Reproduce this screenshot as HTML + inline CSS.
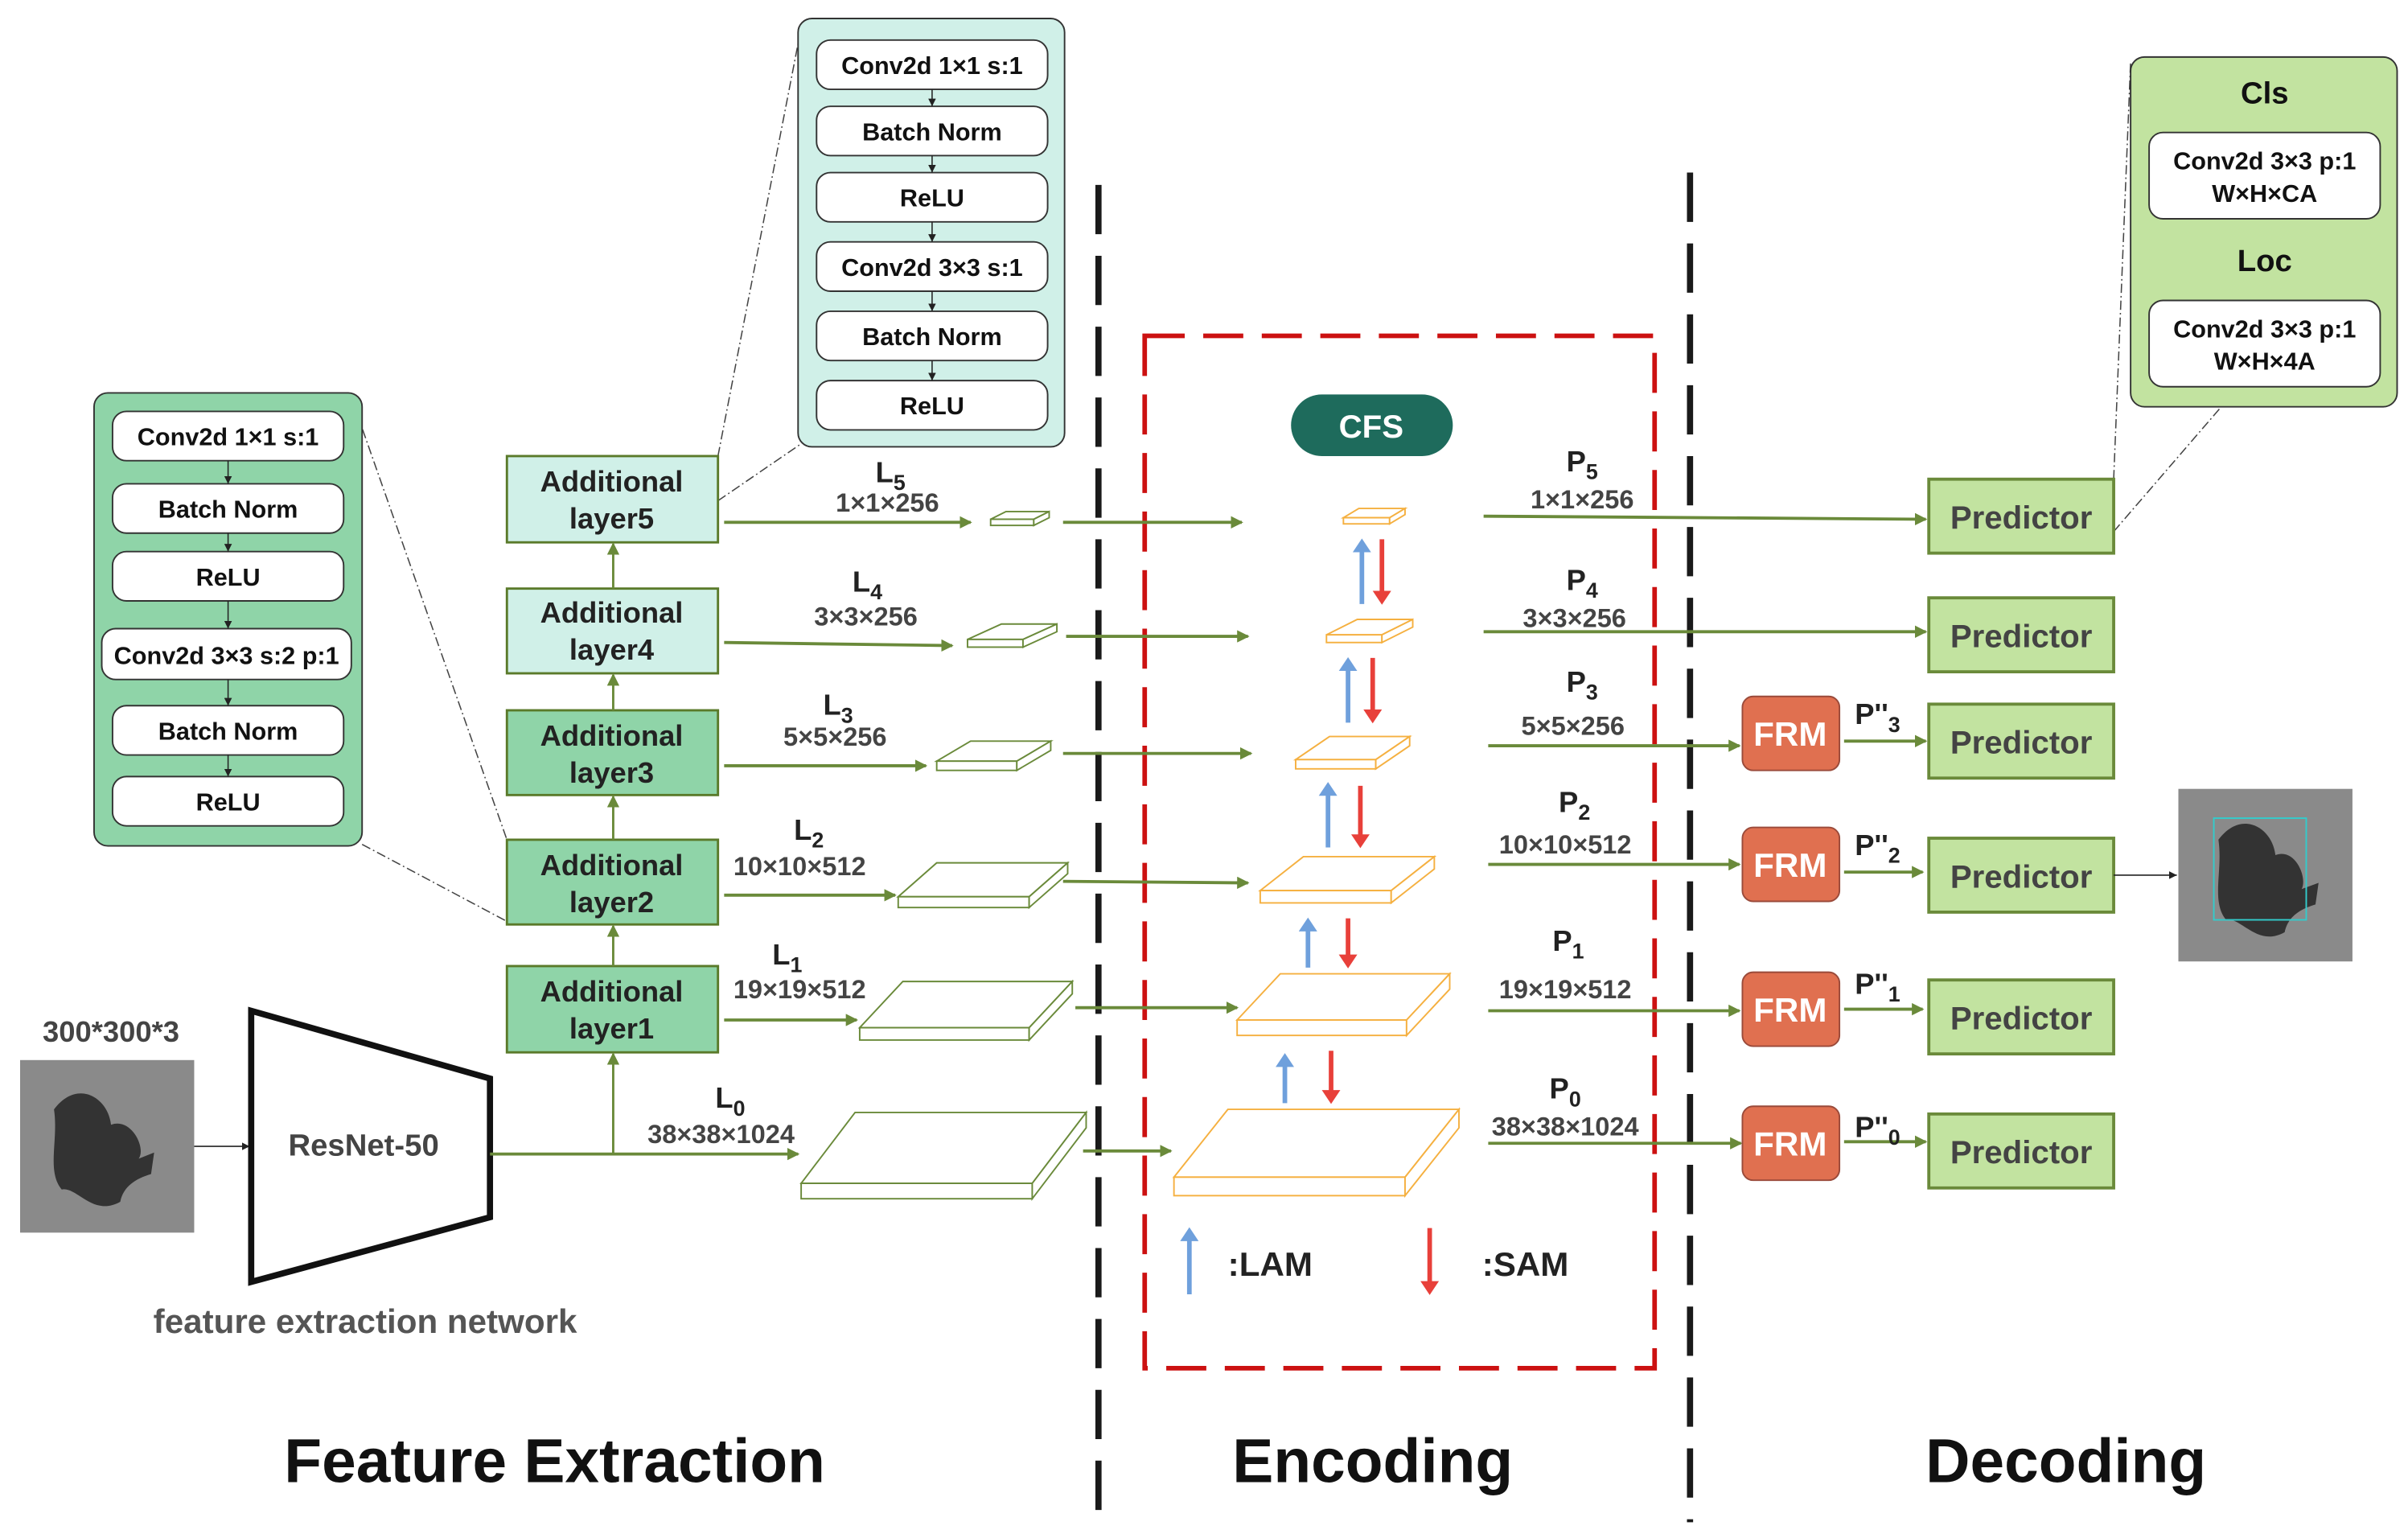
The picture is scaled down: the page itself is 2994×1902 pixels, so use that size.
<!DOCTYPE html>
<html><head><meta charset="utf-8"><style>
html,body{margin:0;padding:0;background:#fff;width:2994px;height:1902px;overflow:hidden}
svg{display:block}
text{font-family:"Liberation Sans",sans-serif;font-weight:bold}
</style></head><body>
<svg width="2994" height="1902" viewBox="0 0 1563 993" xmlns="http://www.w3.org/2000/svg">
<defs>
<marker id="ag" markerWidth="8" markerHeight="8" refX="7" refY="4" orient="auto" markerUnits="userSpaceOnUse"><path d="M0,0 L8,4 L0,8 z" fill="#6a8a3a"/></marker>
<marker id="ak" markerWidth="5" markerHeight="5" refX="5" refY="2.5" orient="auto" markerUnits="userSpaceOnUse"><path d="M0,0 L5,2.5 L0,5 z" fill="#222"/></marker>
<marker id="ab" markerWidth="9" markerHeight="12" refX="4.5" refY="6" orient="auto" markerUnits="userSpaceOnUse"><path d="M0,0 L9,6 L0,12 z" fill="#6fa0dc"/></marker>
<marker id="ar" markerWidth="9" markerHeight="12" refX="4.5" refY="6" orient="auto" markerUnits="userSpaceOnUse"><path d="M0,0 L9,6 L0,12 z" fill="#e8403a"/></marker>
</defs>

<!-- dashed separators -->
<line x1="713" y1="120" x2="713" y2="988" stroke="#1a1a1a" stroke-width="4" stroke-dasharray="32,14"/>
<line x1="1097" y1="112" x2="1097" y2="988" stroke="#1a1a1a" stroke-width="4" stroke-dasharray="32,14"/>
<rect x="743" y="218" width="331" height="670" fill="none" stroke="#cc1111" stroke-width="3" stroke-dasharray="26,12"/>

<!-- connector dash lines -->
<g stroke="#444" stroke-width="0.8" stroke-dasharray="6,2,1,2" fill="none">
<line x1="228" y1="258" x2="329" y2="545"/>
<line x1="235" y1="548" x2="329" y2="598"/>
<line x1="466" y1="296" x2="520" y2="18"/>
<line x1="466" y1="325" x2="520" y2="288"/>
<line x1="1372" y1="311" x2="1383" y2="40"/>
<line x1="1372" y1="345" x2="1441" y2="265"/>
</g>

<!-- left panel -->
<rect x="61" y="255" width="174" height="294" rx="9" fill="#8fd4a8" stroke="#333" stroke-width="1"/>
<g fill="#fff" stroke="#333" stroke-width="1">
<rect x="73" y="267" width="150" height="32" rx="9"/>
<rect x="73" y="314" width="150" height="32" rx="9"/>
<rect x="73" y="358" width="150" height="32" rx="9"/>
<rect x="66" y="408" width="162" height="33" rx="9"/>
<rect x="73" y="458" width="150" height="32" rx="9"/>
<rect x="73" y="504" width="150" height="32" rx="9"/>
</g>
<g stroke="#222" stroke-width="0.8" marker-end="url(#ak)">
<line x1="148" y1="299" x2="148" y2="314"/><line x1="148" y1="346" x2="148" y2="358"/>
<line x1="148" y1="390" x2="148" y2="408"/><line x1="148" y1="441" x2="148" y2="458"/>
<line x1="148" y1="490" x2="148" y2="504"/>
</g>
<g font-size="16" fill="#111" text-anchor="middle">
<text x="148" y="289">Conv2d 1×1 s:1</text>
<text x="148" y="336">Batch Norm</text>
<text x="148" y="380">ReLU</text>
<text x="147" y="431">Conv2d 3×3 s:2 p:1</text>
<text x="148" y="480">Batch Norm</text>
<text x="148" y="526">ReLU</text>
</g>

<!-- top panel -->
<rect x="518" y="12" width="173" height="278" rx="9" fill="#d0f0e8" stroke="#333" stroke-width="1"/>
<g fill="#fff" stroke="#333" stroke-width="1">
<rect x="530" y="26" width="150" height="32" rx="9"/>
<rect x="530" y="69" width="150" height="32" rx="9"/>
<rect x="530" y="112" width="150" height="32" rx="9"/>
<rect x="530" y="157" width="150" height="32" rx="9"/>
<rect x="530" y="202" width="150" height="32" rx="9"/>
<rect x="530" y="247" width="150" height="32" rx="9"/>
</g>
<g stroke="#222" stroke-width="0.8" marker-end="url(#ak)">
<line x1="605" y1="58" x2="605" y2="69"/><line x1="605" y1="101" x2="605" y2="112"/>
<line x1="605" y1="144" x2="605" y2="157"/><line x1="605" y1="189" x2="605" y2="202"/>
<line x1="605" y1="234" x2="605" y2="247"/>
</g>
<g font-size="16" fill="#111" text-anchor="middle">
<text x="605" y="48">Conv2d 1×1 s:1</text>
<text x="605" y="91">Batch Norm</text>
<text x="605" y="134">ReLU</text>
<text x="605" y="179">Conv2d 3×3 s:1</text>
<text x="605" y="224">Batch Norm</text>
<text x="605" y="269">ReLU</text>
</g>

<!-- additional layers -->
<g stroke="#5a7a2a" stroke-width="1.5">
<rect x="329" y="296" width="137" height="56" fill="#d0f0e8"/>
<rect x="329" y="382" width="137" height="55" fill="#d0f0e8"/>
<rect x="329" y="461" width="137" height="55" fill="#8fd4a8"/>
<rect x="329" y="545" width="137" height="55" fill="#8fd4a8"/>
<rect x="329" y="627" width="137" height="56" fill="#8fd4a8"/>
</g>
<g font-size="19" fill="#222" text-anchor="middle">
<text x="397" y="319">Additional</text><text x="397" y="343">layer5</text>
<text x="397" y="404">Additional</text><text x="397" y="428">layer4</text>
<text x="397" y="484">Additional</text><text x="397" y="508">layer3</text>
<text x="397" y="568">Additional</text><text x="397" y="592">layer2</text>
<text x="397" y="650">Additional</text><text x="397" y="674">layer1</text>
</g>
<g stroke="#6a8a3a" stroke-width="1.5" marker-end="url(#ag)">
<line x1="398" y1="627" x2="398" y2="601"/>
<line x1="398" y1="545" x2="398" y2="517"/>
<line x1="398" y1="461" x2="398" y2="438"/>
<line x1="398" y1="382" x2="398" y2="353"/>
<line x1="398" y1="749" x2="398" y2="684"/>
</g>

<!-- input -->
<rect x="13" y="688" width="113" height="112" fill="#8a8a8a"/>
<path d="M35,720 C50,700 70,712 72,730 C85,725 95,745 90,752 L100,748 L98,762 C88,765 80,770 78,780 C60,790 50,770 40,772 C30,760 38,740 35,720 z" fill="#333"/>
<text x="72" y="676" font-size="19" fill="#444" text-anchor="middle">300*300*3</text>
<line x1="126" y1="744" x2="162" y2="744" stroke="#222" stroke-width="0.8" marker-end="url(#ak)"/>
<polygon points="163,656 318,700 318,790 163,832" fill="#fff" stroke="#111" stroke-width="4"/>
<text x="236" y="750" font-size="20" fill="#444" text-anchor="middle">ResNet-50</text>
<text x="237" y="865" font-size="22" fill="#555" text-anchor="middle">feature extraction network</text>

<!-- green slabs -->
<g fill="#fff" stroke="#6a8a3a" stroke-width="1">
<polygon points="520,768 555,722 705,722 670,768"/><rect x="520" y="768" width="150" height="10"/><polygon points="670,768 705,722 705,732 670,778"/>
<polygon points="558,667 586,637 696,637 668,667"/><rect x="558" y="667" width="110" height="8"/><polygon points="668,667 696,637 696,645 668,675"/>
<polygon points="583,582 608,560 693,560 668,582"/><rect x="583" y="582" width="85" height="7"/><polygon points="668,582 693,560 693,567 668,589"/>
<polygon points="608,494 630,481 682,481 660,494"/><rect x="608" y="494" width="52" height="6"/><polygon points="660,494 682,481 682,487 660,500"/>
<polygon points="628,415 650,405 686,405 664,415"/><rect x="628" y="415" width="36" height="5"/><polygon points="664,415 686,405 686,410 664,420"/>
<polygon points="643,337 653,332 681,332 671,337"/><rect x="643" y="337" width="28" height="4"/><polygon points="671,337 681,332 681,336 671,341"/>
</g>
<!-- orange slabs -->
<g fill="#fff" stroke="#f5b040" stroke-width="1">
<polygon points="762,764 797,720 947,720 912,764"/><rect x="762" y="764" width="150" height="12"/><polygon points="912,764 947,720 947,732 912,776"/>
<polygon points="803,662 831,632 941,632 913,662"/><rect x="803" y="662" width="110" height="10"/><polygon points="913,662 941,632 941,642 913,672"/>
<polygon points="818,578 846,556 931,556 903,578"/><rect x="818" y="578" width="85" height="8"/><polygon points="903,578 931,556 931,564 903,586"/>
<polygon points="841,493 863,478 915,478 893,493"/><rect x="841" y="493" width="52" height="6"/><polygon points="893,493 915,478 915,484 893,499"/>
<polygon points="861,412 881,402 917,402 897,412"/><rect x="861" y="412" width="36" height="5"/><polygon points="897,412 917,402 917,407 897,417"/>
<polygon points="872,336 882,330 912,330 902,336"/><rect x="872" y="336" width="30" height="4"/><polygon points="902,336 912,330 912,334 902,340"/>
</g>

<!-- green arrows -->
<g stroke="#6a8a3a" stroke-width="2" marker-end="url(#ag)">
<line x1="318" y1="749" x2="518" y2="749"/>
<line x1="470" y1="339" x2="630" y2="339"/><line x1="690" y1="339" x2="806" y2="339"/><line x1="963" y1="335" x2="1250" y2="337"/>
<line x1="470" y1="417" x2="618" y2="419"/><line x1="692" y1="413" x2="810" y2="413"/><line x1="963" y1="410" x2="1250" y2="410"/>
<line x1="470" y1="497" x2="601" y2="497"/><line x1="690" y1="489" x2="812" y2="489"/><line x1="966" y1="484" x2="1129" y2="484"/><line x1="1197" y1="481" x2="1250" y2="481"/>
<line x1="470" y1="581" x2="581" y2="581"/><line x1="690" y1="572" x2="810" y2="573"/><line x1="966" y1="561" x2="1129" y2="561"/><line x1="1197" y1="566" x2="1248" y2="566"/>
<line x1="470" y1="662" x2="556" y2="662"/><line x1="698" y1="654" x2="803" y2="654"/><line x1="966" y1="656" x2="1129" y2="656"/><line x1="1197" y1="655" x2="1248" y2="655"/>
<line x1="703" y1="747" x2="760" y2="747"/><line x1="966" y1="742" x2="1130" y2="742"/><line x1="1197" y1="741" x2="1250" y2="741"/>
</g>

<!-- L labels -->
<g fill="#222" text-anchor="middle">
<text x="578" y="313" font-size="19">L<tspan font-size="14" dy="5">5</tspan></text>
<text x="563" y="384" font-size="19">L<tspan font-size="14" dy="5">4</tspan></text>
<text x="544" y="464" font-size="19">L<tspan font-size="14" dy="5">3</tspan></text>
<text x="525" y="545" font-size="19">L<tspan font-size="14" dy="5">2</tspan></text>
<text x="511" y="626" font-size="19">L<tspan font-size="14" dy="5">1</tspan></text>
<text x="474" y="719" font-size="19">L<tspan font-size="14" dy="5">0</tspan></text>
<text x="1027" y="306" font-size="19">P<tspan font-size="14" dy="5">5</tspan></text>
<text x="1027" y="383" font-size="19">P<tspan font-size="14" dy="5">4</tspan></text>
<text x="1027" y="449" font-size="19">P<tspan font-size="14" dy="5">3</tspan></text>
<text x="1022" y="527" font-size="19">P<tspan font-size="14" dy="5">2</tspan></text>
<text x="1018" y="617" font-size="19">P<tspan font-size="14" dy="5">1</tspan></text>
<text x="1016" y="713" font-size="19">P<tspan font-size="14" dy="5">0</tspan></text>
</g>
<g fill="#444" font-size="17" text-anchor="middle">
<text x="576" y="332">1×1×256</text>
<text x="562" y="406">3×3×256</text>
<text x="542" y="484">5×5×256</text>
<text x="519" y="568">10×10×512</text>
<text x="519" y="648">19×19×512</text>
<text x="468" y="742">38×38×1024</text>
<text x="1027" y="330">1×1×256</text>
<text x="1022" y="407">3×3×256</text>
<text x="1021" y="477">5×5×256</text>
<text x="1016" y="554">10×10×512</text>
<text x="1016" y="648">19×19×512</text>
<text x="1016" y="737">38×38×1024</text>
</g>

<!-- CFS -->
<rect x="838" y="256" width="105" height="40" rx="20" fill="#1e6b5c"/>
<text x="890" y="284" font-size="21" fill="#fff" text-anchor="middle">CFS</text>

<!-- LAM/SAM -->
<g stroke-width="3">
<line x1="884" y1="392" x2="884" y2="354" stroke="#6fa0dc" marker-end="url(#ab)"/>
<line x1="897" y1="350" x2="897" y2="388" stroke="#e8403a" marker-end="url(#ar)"/>
<line x1="875" y1="469" x2="875" y2="431" stroke="#6fa0dc" marker-end="url(#ab)"/>
<line x1="891" y1="427" x2="891" y2="465" stroke="#e8403a" marker-end="url(#ar)"/>
<line x1="862" y1="550" x2="862" y2="512" stroke="#6fa0dc" marker-end="url(#ab)"/>
<line x1="883" y1="510" x2="883" y2="546" stroke="#e8403a" marker-end="url(#ar)"/>
<line x1="849" y1="628" x2="849" y2="600" stroke="#6fa0dc" marker-end="url(#ab)"/>
<line x1="875" y1="596" x2="875" y2="624" stroke="#e8403a" marker-end="url(#ar)"/>
<line x1="834" y1="716" x2="834" y2="688" stroke="#6fa0dc" marker-end="url(#ab)"/>
<line x1="864" y1="682" x2="864" y2="712" stroke="#e8403a" marker-end="url(#ar)"/>
<line x1="772" y1="840" x2="772" y2="801" stroke="#6fa0dc" marker-end="url(#ab)"/>
<line x1="928" y1="797" x2="928" y2="836" stroke="#e8403a" marker-end="url(#ar)"/>
</g>
<text x="797" y="828" font-size="22" fill="#222">:LAM</text>
<text x="962" y="828" font-size="22" fill="#222">:SAM</text>

<!-- FRM -->
<g fill="#e07050" stroke="#9a4a3a" stroke-width="1">
<rect x="1131" y="452" width="63" height="48" rx="7"/>
<rect x="1131" y="537" width="63" height="48" rx="7"/>
<rect x="1131" y="631" width="63" height="48" rx="7"/>
<rect x="1131" y="718" width="63" height="48" rx="7"/>
</g>
<g fill="#fff" font-size="22" font-weight="normal" text-anchor="middle">
<text x="1162" y="484" font-weight="normal">FRM</text>
<text x="1162" y="569" font-weight="normal">FRM</text>
<text x="1162" y="663" font-weight="normal">FRM</text>
<text x="1162" y="750" font-weight="normal">FRM</text>
</g>
<g fill="#222" font-size="19">
<text x="1204" y="470">P''<tspan font-size="14" dy="5">3</tspan></text>
<text x="1204" y="555">P''<tspan font-size="14" dy="5">2</tspan></text>
<text x="1204" y="645">P''<tspan font-size="14" dy="5">1</tspan></text>
<text x="1204" y="738">P''<tspan font-size="14" dy="5">0</tspan></text>
</g>

<!-- Predictors -->
<g fill="#c2e3a0" stroke="#6a8a3a" stroke-width="2">
<rect x="1252" y="311" width="120" height="48"/>
<rect x="1252" y="388" width="120" height="48"/>
<rect x="1252" y="457" width="120" height="48"/>
<rect x="1252" y="544" width="120" height="48"/>
<rect x="1252" y="636" width="120" height="48"/>
<rect x="1252" y="723" width="120" height="48"/>
</g>
<g fill="#444" font-size="21" text-anchor="middle">
<text x="1312" y="343">Predictor</text>
<text x="1312" y="420">Predictor</text>
<text x="1312" y="489">Predictor</text>
<text x="1312" y="576">Predictor</text>
<text x="1312" y="668">Predictor</text>
<text x="1312" y="755">Predictor</text>
</g>
<line x1="1372" y1="568" x2="1413" y2="568" stroke="#222" stroke-width="0.8" marker-end="url(#ak)"/>
<rect x="1414" y="512" width="113" height="112" fill="#8a8a8a"/>
<path d="M1440,545 C1455,525 1475,537 1477,555 C1490,550 1498,570 1494,577 L1505,573 L1503,587 C1493,590 1485,595 1483,605 C1465,615 1455,595 1445,597 C1435,585 1443,565 1440,545 z" fill="#333"/>
<rect x="1437" y="531" width="60" height="66" fill="none" stroke="#3cc" stroke-width="1"/>

<!-- right panel -->
<rect x="1383" y="37" width="173" height="227" rx="9" fill="#c2e3a0" stroke="#333" stroke-width="1"/>
<rect x="1395" y="86" width="150" height="56" rx="9" fill="#fff" stroke="#333" stroke-width="1"/>
<rect x="1395" y="195" width="150" height="56" rx="9" fill="#fff" stroke="#333" stroke-width="1"/>
<g fill="#111" text-anchor="middle">
<text x="1470" y="67" font-size="20">Cls</text>
<text x="1470" y="176" font-size="20">Loc</text>
<text x="1470" y="110" font-size="16">Conv2d 3×3 p:1</text>
<text x="1470" y="131" font-size="16">W×H×CA</text>
<text x="1470" y="219" font-size="16">Conv2d 3×3 p:1</text>
<text x="1470" y="240" font-size="16">W×H×4A</text>
</g>

<!-- titles -->
<g fill="#111" font-size="40" text-anchor="middle">
<text x="360" y="962">Feature Extraction</text>
<text x="891" y="962">Encoding</text>
<text x="1341" y="962">Decoding</text>
</g>
</svg>
</body></html>
